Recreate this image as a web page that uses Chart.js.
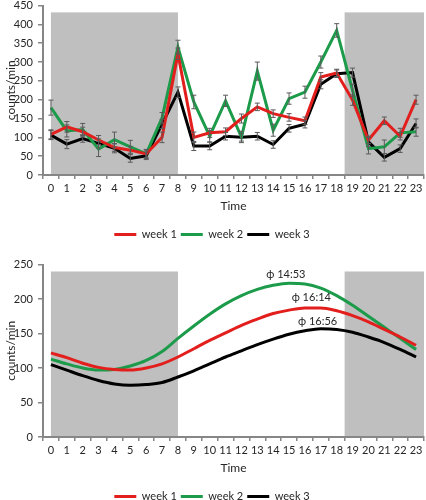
<!DOCTYPE html>
<html>
<head>
<meta charset="utf-8">
<script src="https://cdn.jsdelivr.net/npm/chart.js@4.4.0/dist/chart.umd.min.js"></script>
<style>
  html, body { margin: 0; padding: 0; background: #fff; overflow: hidden; width: 426px; height: 500px; }
  .box { position: absolute; left: 0; width: 426px; }
  #topBox { top: -6px; height: 256px; }
  #botBox { top: 253px; height: 259px; }
</style>
</head>
<body>
<div class="box" id="topBox"><canvas id="activityChart"></canvas></div>
<div class="box" id="botBox"><canvas id="cosinorChart"></canvas></div>
<script>
// ─── Data ─────────────────────────────────────────────

const HOURS = ['0','1','2','3','4','5','6','7','8','9','10','11','12','13','14','15','16','17','18','19','20','21','22','23'];
const SERIES = ['week 1', 'week 2', 'week 3'];

// hourly activity (counts/min) with error bars
const WEEK1 = [108,128,115,93,73,66,56,100,322,100,112,115,150,181,163,153,144,260,271,199,93,144,103,200];
const WEEK2 = [179,117,121,69,94,75,56,152,340,194,103,197,101,276,119,203,220,300,384,225,70,75,112,115];
const WEEK3 = [106,82,97,84,71,44,51,135,220,77,77,103,100,103,81,124,135,241,269,272,88,47,70,137];
const ERR1  = [12,14,12,12,10,10,10,14,15,14,12,10,12,10,10,10,10,12,10,14,10,10,10,12];
const ERR2  = [20,16,16,20,20,17,12,14,18,18,15,15,15,24,16,15,16,16,18,16,14,18,12,12];
const ERR3  = [12,12,10,12,12,10,10,12,14,12,10,10,10,10,10,10,10,12,10,12,12,10,10,12];

// cosinor fits (counts/min)
const FIT1 = [122,115,107,101,98,97,100,106,116,128,140,151,162,171,179,184,187,187,183,176,167,156,145,133];
const FIT2 = [113,106,100,97,98,103,111,124,143,161,178,193,205,214,220,223,222,216,205,191,175,159,143,127];
const FIT3 = [105,97,89,82,77,75,76,79,87,96,106,116,125,134,142,149,154,157,156,152,145,137,127,116];

// acrophase labels: text, hour, value
const PHASE_TEXT = ['ϕ 14:53', 'ϕ 16:14', 'ϕ 16:56'];
const PHASE_HOUR = [14.8, 16.4, 16.8];
const PHASE_VAL  = [236, 203, 168];

// dark periods (hour from, hour to)
const NIGHT = [[0, 8], [18.5, 23.5]];
const NIGHT_TOP_1 = 432;
const NIGHT_TOP_2 = 240;

const COLORS = ['#e21f1d', '#1c9b4a', '#000000'];

// ─── Helpers ──────────────────────────────────────────

const FONT = 'Lato';
const TXT = '#262626';
const AXIS = '#868686';

const nightPlugin = {
  id: 'night',
  beforeDraw(chart, args, opts) {
    const {ctx, scales: {x, y}} = chart;
    ctx.save();
    ctx.fillStyle = '#bfbfbf';
    NIGHT.forEach(([a, b]) => {
      const l = x.getPixelForValue(a), r = x.getPixelForValue(b);
      const t = y.getPixelForValue(opts.top), btm = y.getPixelForValue(0);
      ctx.fillRect(l, t, r - l, btm - t);
    });
    ctx.restore();
  }
};

const errorPlugin = {
  id: 'errbars',
  afterDatasetsDraw(chart) {
    const {ctx, scales: {y}} = chart;
    ctx.save();
    ctx.strokeStyle = '#5a5a5a';
    ctx.lineWidth = 1;
    chart.data.datasets.forEach((ds, di) => {
      if (!ds.errors) return;
      chart.getDatasetMeta(di).data.forEach((pt, i) => {
        const hi = y.getPixelForValue(ds.data[i] + ds.errors[i]);
        const lo = y.getPixelForValue(ds.data[i] - ds.errors[i]);
        ctx.beginPath();
        ctx.moveTo(pt.x, hi); ctx.lineTo(pt.x, lo);
        ctx.moveTo(pt.x - 2.5, hi); ctx.lineTo(pt.x + 2.5, hi);
        ctx.moveTo(pt.x - 2.5, lo); ctx.lineTo(pt.x + 2.5, lo);
        ctx.stroke();
      });
    });
    ctx.restore();
  }
};

const phasePlugin = {
  id: 'phase',
  afterDatasetsDraw(chart) {
    const {ctx, scales: {x, y}} = chart;
    ctx.save();
    ctx.fillStyle = TXT;
    ctx.font = '11px ' + FONT;
    ctx.textAlign = 'center';
    ctx.textBaseline = 'middle';
    PHASE_TEXT.forEach((t, i) => {
      ctx.fillText(t, x.getPixelForValue(PHASE_HOUR[i]), y.getPixelForValue(PHASE_VAL[i]));
    });
    ctx.restore();
  }
};

function lineDs(label, data, color, extra) {
  return Object.assign({
    label, data,
    borderColor: color,
    backgroundColor: color,
    borderWidth: 3,
    pointRadius: 0,
    fill: false,
  }, extra || {});
}

function chartOptions(yMax, nightTop) {
  return {
    responsive: true,
    maintainAspectRatio: false,
    animation: false,
    layout: { padding: { top: 0, right: 2, left: 0, bottom: 0 } },
    scales: {
      x: {
        type: 'category',
        offset: true,
        grid: { offset: true, drawOnChartArea: false, tickLength: 4, color: AXIS, lineWidth: 1.5 },
        border: { color: AXIS, width: 2 },
        ticks: { color: TXT, font: { size: 11, family: FONT }, padding: 3, autoSkip: false, maxRotation: 0 },
        title: { display: true, text: 'Time', color: TXT, font: { size: 12, family: FONT }, padding: { top: 0, bottom: 12 } },
        afterFit: s => { s.height = 50; },
      },
      y: {
        min: 0, max: yMax,
        grid: { drawOnChartArea: false, tickLength: 5, color: AXIS, lineWidth: 1.5 },
        border: { color: AXIS, width: 2 },
        ticks: { stepSize: 50, color: TXT, font: { size: 11, family: FONT }, padding: 5 },
        title: { display: true, text: 'counts/min', color: TXT, font: { size: 12, family: FONT }, padding: { top: 4, bottom: 0 } },
        afterFit: s => { s.width = 43; },
      },
    },
    plugins: {
      legend: {
        position: 'bottom',
        labels: {
          color: TXT,
          font: { size: 11, family: FONT },
          boxWidth: 22,
          boxHeight: 3,
          padding: 4,
          generateLabels: ch => Chart.defaults.plugins.legend.labels.generateLabels(ch)
            .map(l => Object.assign(l, { lineWidth: 0 })),
        },
      },
      tooltip: { enabled: false },
      night: { top: nightTop },
    },
  };
}

// ─── Hourly activity chart ────────────────────────────

new Chart(document.getElementById('activityChart'), {
  type: 'line',
  data: {
    labels: HOURS,
    datasets: [
      lineDs(SERIES[0], WEEK1, COLORS[0], { errors: ERR1 }),
      lineDs(SERIES[1], WEEK2, COLORS[1], { errors: ERR2 }),
      lineDs(SERIES[2], WEEK3, COLORS[2], { errors: ERR3 }),
    ],
  },
  options: chartOptions(450, NIGHT_TOP_1),
  plugins: [nightPlugin, errorPlugin],
});

// ─── Cosinor chart ────────────────────────────────────

new Chart(document.getElementById('cosinorChart'), {
  type: 'line',
  data: {
    labels: HOURS,
    datasets: [
      lineDs(SERIES[0], FIT1, COLORS[0], { cubicInterpolationMode: 'monotone' }),
      lineDs(SERIES[1], FIT2, COLORS[1], { cubicInterpolationMode: 'monotone' }),
      lineDs(SERIES[2], FIT3, COLORS[2], { cubicInterpolationMode: 'monotone' }),
    ],
  },
  options: chartOptions(250, NIGHT_TOP_2),
  plugins: [nightPlugin, phasePlugin],
});
</script>
</body>
</html>
